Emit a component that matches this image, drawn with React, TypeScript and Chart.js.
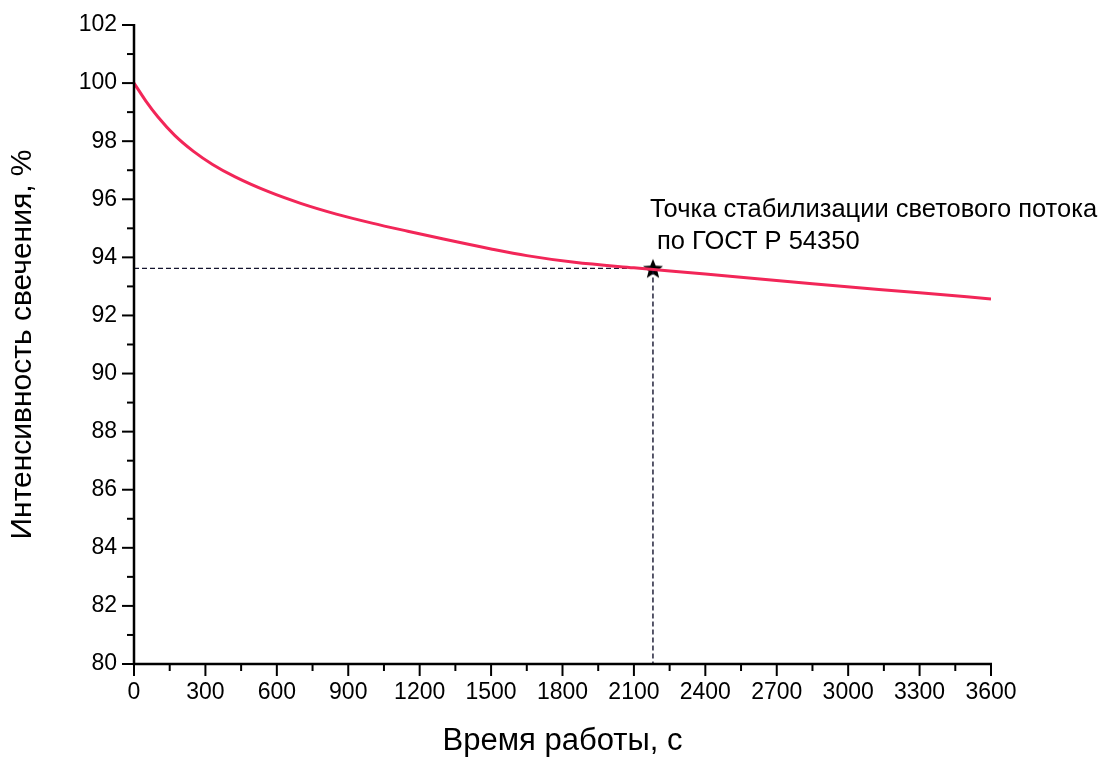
import React, { useEffect, useRef } from "react";
import { Chart, registerables } from "chart.js";

Chart.register(...registerables);

// Data
const timeSeconds = [0, 50, 100, 170, 250, 330, 425, 565, 700, 850, 1000, 1150, 1300, 1500, 1650, 1850, 2100, 2400, 2850, 3300, 3600];
const intensity = [100.0, 99.38, 98.84, 98.21, 97.65, 97.2, 96.77, 96.26, 95.86, 95.49, 95.18, 94.9, 94.63, 94.29, 94.06, 93.83, 93.64, 93.43, 93.09, 92.78, 92.57];

const stabilizationTime = 2180;
const stabilizationValue = 93.62;

const xMin = 0;
const xMax = 3600;
const xMajorStep = 300;
const xMinorStep = 150;
const yMin = 80;
const yMax = 102;
const yMajorStep = 2;
const yMinorStep = 1;

const xTitle = "Время работы, с";
const yTitle = "Интенсивность свечения, %";
const annotationLines = ["Точка стабилизации светового потока", " по ГОСТ Р 54350"];

const FONT = "'Liberation Sans', Arial, sans-serif";

export default function App() {
  const ref = useRef<HTMLCanvasElement>(null);

  useEffect(() => {
    document.body.style.margin = "0";
    const canvas = ref.current!;

    const starImg = document.createElement("canvas");
    starImg.width = 24;
    starImg.height = 24;
    const sctx = starImg.getContext("2d")!;
    sctx.beginPath();
    for (let i = 0; i < 10; i++) {
      const r = i % 2 === 0 ? 10.5 : 4.6;
      const a = -Math.PI / 2 + (i * Math.PI) / 5;
      const px = 12 + r * Math.cos(a);
      const py = 13 + r * Math.sin(a);
      if (i === 0) sctx.moveTo(px, py);
      else sctx.lineTo(px, py);
    }
    sctx.closePath();
    sctx.fillStyle = "#000";
    sctx.fill();

    const axesPlugin = {
      id: "axesTicks",
      afterDraw(chart: any) {
        const { ctx, chartArea: a, scales } = chart;
        const xs = scales.x;
        const ys = scales.y;
        ctx.save();
        ctx.strokeStyle = "#000";
        ctx.lineWidth = 2.5;
        ctx.beginPath();
        ctx.moveTo(a.left, a.top - 1);
        ctx.lineTo(a.left, a.bottom);
        ctx.lineTo(a.right + 1, a.bottom);
        ctx.stroke();
        ctx.lineWidth = 2;
        for (let v = yMin; v <= yMax; v += yMinorStep) {
          const py = ys.getPixelForValue(v);
          const len = (v - yMin) % yMajorStep === 0 ? 12 : 7;
          ctx.beginPath();
          ctx.moveTo(a.left - len, py);
          ctx.lineTo(a.left, py);
          ctx.stroke();
        }
        for (let v = xMin; v <= xMax; v += xMinorStep) {
          const px = xs.getPixelForValue(v);
          const len = (v - xMin) % xMajorStep === 0 ? 12 : 7;
          ctx.beginPath();
          ctx.moveTo(px, a.bottom);
          ctx.lineTo(px, a.bottom + len);
          ctx.stroke();
        }
        const sx = xs.getPixelForValue(stabilizationTime);
        const sy = ys.getPixelForValue(stabilizationValue);
        ctx.fillStyle = "#000";
        ctx.font = `25.5px ${FONT}`;
        ctx.textBaseline = "alphabetic";
        ctx.textAlign = "left";
        ctx.fillText(annotationLines[0], sx - 3, sy - 51);
        ctx.fillText(annotationLines[1], sx - 3, sy - 19);
        ctx.restore();
      },
    };

    const chart = new Chart(canvas, {
      type: "line",
      data: {
        datasets: [
          {
            label: "curve",
            data: timeSeconds.map((t, i) => ({ x: t, y: intensity[i] })),
            borderColor: "rgb(242, 38, 88)",
            borderWidth: 3,
            pointRadius: 0,
            cubicInterpolationMode: "monotone",
            fill: false,
          },
          {
            label: "guide",
            data: [
              { x: xMin, y: stabilizationValue },
              { x: stabilizationTime, y: stabilizationValue },
              { x: stabilizationTime, y: yMin },
            ],
            borderColor: "#14142e",
            borderWidth: 1.4,
            borderDash: [5, 3],
            pointRadius: 0,
            tension: 0,
            fill: false,
          },
          {
            label: "star",
            data: [{ x: stabilizationTime, y: stabilizationValue }],
            showLine: false,
            pointStyle: starImg as any,
            pointRadius: 12,
            borderColor: "#000",
            backgroundColor: "#000",
          },
        ],
      },
      options: {
        responsive: false,
        animation: false,
        devicePixelRatio: 1,
        layout: { padding: { left: 0, right: 110, top: 25, bottom: 0 } },
        plugins: {
          legend: { display: false },
          tooltip: { enabled: false },
        },
        scales: {
          x: {
            type: "linear",
            min: xMin,
            max: xMax,
            grid: { display: false, drawTicks: false },
            border: { display: false },
            ticks: {
              stepSize: xMajorStep,
              padding: 15,
              color: "#000",
              font: { family: FONT, size: 23 },
              maxRotation: 0,
              autoSkip: false,
              callback: (v: any) => String(v),
            },
            title: {
              display: true,
              text: xTitle,
              color: "#000",
              font: { family: FONT, size: 31 },
              padding: { top: 0, bottom: 0 },
            },
            afterFit(scale: any) {
              scale.height = 96;
              scale.paddingLeft = 0;
              scale.paddingRight = 0;
            },
          },
          y: {
            type: "linear",
            min: yMin,
            max: yMax,
            grid: { display: false, drawTicks: false },
            border: { display: false },
            ticks: {
              stepSize: yMajorStep,
              padding: 17,
              color: "#000",
              font: { family: FONT, size: 23 },
              autoSkip: false,
              callback: (v: any) => String(v),
            },
            title: {
              display: true,
              text: yTitle,
              color: "#000",
              font: { family: FONT, size: 30 },
              padding: { top: 5, bottom: 0 },
            },
            afterFit(scale: any) {
              scale.width = 134;
              scale.paddingTop = 0;
              scale.paddingBottom = 0;
            },
          },
        },
      },
      plugins: [axesPlugin],
    });

    return () => chart.destroy();
  }, []);

  return (
    <div style={{ position: "fixed", left: 0, top: 0, width: 1101, height: 760, background: "#fff" }}>
      <canvas ref={ref} width={1101} height={760} />
    </div>
  );
}
